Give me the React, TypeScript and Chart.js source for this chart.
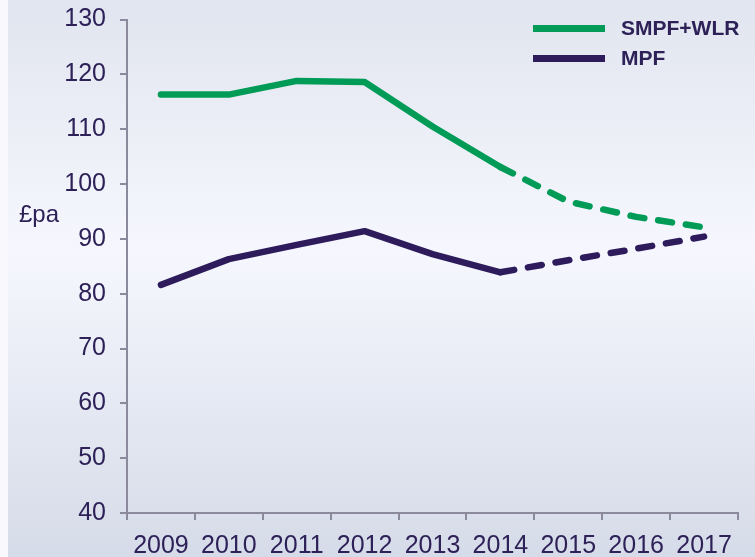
import React, { useEffect, useRef } from "react";
import { Chart, registerables } from "chart.js";

Chart.register(...registerables);

const categories = ["2009", "2010", "2011", "2012", "2013", "2014", "2015", "2016", "2017"];
const smpfWlr = [116.3, 116.3, 118.8, 118.6, 110.5, 103.1, 96.8, 94.0, 92.1];
const mpf = [81.6, 86.3, 88.9, 91.4, 87.2, 83.9, 86.1, 88.2, 90.4];
const seriesNames = ["SMPF+WLR", "MPF"];
const forecastFromIndex = 5;

const GREEN = "#009c57";
const PURPLE = "#2e1b5c";
const TEXT = "#2d2158";
const AXIS = "#8a8a9c";
const FONT = "'Liberation Sans', Arial, sans-serif";

const bgPlugin = {
  id: "bg",
  beforeDraw(chart: any) {
    const { ctx, width, height } = chart;
    ctx.save();
    ctx.fillStyle = "#f9f9fd";
    ctx.fillRect(0, 0, width, height);
    const g = ctx.createLinearGradient(0, 0, 0, height);
    g.addColorStop(0, "#e1e5ef");
    g.addColorStop(0.45, "#f6f7fe");
    g.addColorStop(1, "#d5dbe8");
    ctx.fillStyle = g;
    ctx.fillRect(8, 0, width - 8, height);
    ctx.restore();
  },
  afterDraw(chart: any) {
    const { ctx } = chart;
    ctx.save();
    ctx.fillStyle = TEXT;
    ctx.font = `24px ${FONT}`;
    ctx.textAlign = "left";
    ctx.textBaseline = "middle";
    ctx.fillText("£pa", 19, 215);
    const items = [
      { label: seriesNames[0], color: GREEN, y: 28.5 },
      { label: seriesNames[1], color: PURPLE, y: 58.5 },
    ];
    ctx.font = `bold 21px ${FONT}`;
    for (const it of items) {
      ctx.fillStyle = it.color;
      ctx.fillRect(533, it.y - 3.5, 72, 7);
      ctx.fillStyle = TEXT;
      ctx.fillText(it.label, 621, it.y + 1);
    }
    ctx.restore();
  },
};

export default function App() {
  const ref = useRef<HTMLCanvasElement>(null);
  useEffect(() => {
    document.body.style.margin = "0";
    const dashed = (c: any) => (c.p0DataIndex >= forecastFromIndex ? [14, 14] : undefined);
    const chart = new Chart(ref.current!, {
      type: "line",
      data: {
        labels: categories,
        datasets: [
          {
            label: seriesNames[0],
            data: smpfWlr,
            borderColor: GREEN,
            borderWidth: 6.5,
            borderCapStyle: "round",
            borderJoinStyle: "round",
            pointRadius: 0,
            tension: 0,
            segment: { borderDash: dashed },
          },
          {
            label: seriesNames[1],
            data: mpf,
            borderColor: PURPLE,
            borderWidth: 6.5,
            borderCapStyle: "round",
            borderJoinStyle: "round",
            pointRadius: 0,
            tension: 0,
            segment: { borderDash: dashed },
          },
        ],
      },
      options: {
        animation: false,
        responsive: false,
        layout: { padding: { left: 0, right: 17, top: 19.5, bottom: 0 } },
        plugins: { legend: { display: false }, tooltip: { enabled: false } },
        scales: {
          x: {
            type: "category",
            offset: true,
            grid: {
              offset: true,
              drawOnChartArea: false,
              drawTicks: true,
              tickLength: 7,
              color: AXIS,
              lineWidth: 2,
            },
            border: { display: true, color: AXIS, width: 2 },
            ticks: {
              color: TEXT,
              font: { family: FONT, size: 25 },
              padding: 11,
              maxRotation: 0,
              autoSkip: false,
            },
            afterFit(s: any) {
              s.height = 44;
              s.paddingLeft = 0;
              s.paddingRight = 0;
            },
          },
          y: {
            min: 40,
            max: 130,
            ticks: {
              stepSize: 10,
              color: TEXT,
              font: { family: FONT, size: 25 },
              padding: 14,
            },
            grid: {
              drawOnChartArea: false,
              drawTicks: true,
              tickLength: 7,
              color: AXIS,
              lineWidth: 2,
            },
            border: { display: true, color: AXIS, width: 2 },
            afterFit(s: any) {
              s.width = 127;
              s.paddingTop = 0;
              s.paddingBottom = 0;
            },
          },
        },
      },
      plugins: [bgPlugin],
    });
    return () => chart.destroy();
  }, []);
  return <canvas ref={ref} width={755} height={557} style={{ display: "block" }} />;
}
